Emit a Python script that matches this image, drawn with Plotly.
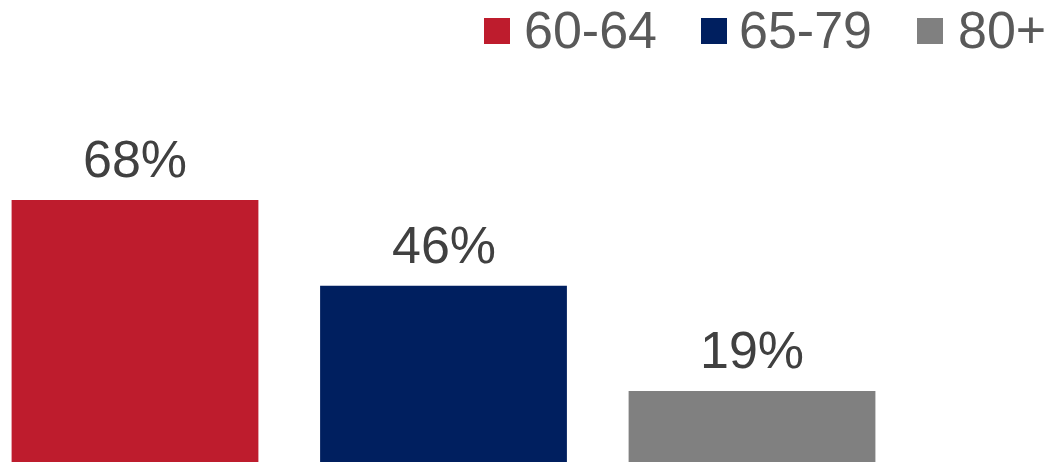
import plotly.graph_objects as go

# Share of each age group
groups = ["60-64", "65-79", "80+"]
values = [68, 46, 19]
colors = ["#BE1C2D", "#001F5F", "#808080"]

W, H = 1052, 462

fig = go.Figure()
for g, v, c in zip(groups, values, colors):
    fig.add_trace(go.Bar(
        x=[g], y=[v], name=g, marker=dict(color=c, line=dict(width=0)),
        width=0.8, showlegend=False, hoverinfo="skip",
    ))

# Value labels above each bar
for g, v in zip(groups, values):
    fig.add_annotation(
        x=g, y=v, xref="x", yref="y", text=f"{v}%", showarrow=False,
        xanchor="center", yanchor="bottom", yshift=10,
        font=dict(family="Liberation Sans, Arial, sans-serif", size=52, color="#404040"),
    )

# Legend: coloured squares with group names, top right
legend_sq_x = [484, 701, 917]
legend_txt_x = [522, 737, 956]
for g, c, sx, tx in zip(groups, colors, legend_sq_x, legend_txt_x):
    fig.add_shape(
        type="rect", xref="paper", yref="paper",
        x0=sx / W, x1=(sx + 26) / W, y0=1 - 44 / H, y1=1 - 18 / H,
        fillcolor=c, line=dict(width=0),
    )
    fig.add_annotation(
        x=tx / W, y=1 - 30 / H, xref="paper", yref="paper", text=g, showarrow=False,
        xanchor="left", yanchor="middle",
        font=dict(family="Liberation Sans, Arial, sans-serif", size=52, color="#595959"),
    )

fig.update_layout(
    width=W, height=H,
    margin=dict(l=0, r=0, t=0, b=0),
    paper_bgcolor="white", plot_bgcolor="white",
    barmode="overlay",
    bargap=0.2,
    xaxis=dict(type="category", categoryorder="array", categoryarray=groups,
               range=[-0.4376, 2.9724], visible=False, fixedrange=True),
    yaxis=dict(range=[0.795, 119.32], visible=False, fixedrange=True),
    showlegend=False,
)

fig.write_html("out.html")
